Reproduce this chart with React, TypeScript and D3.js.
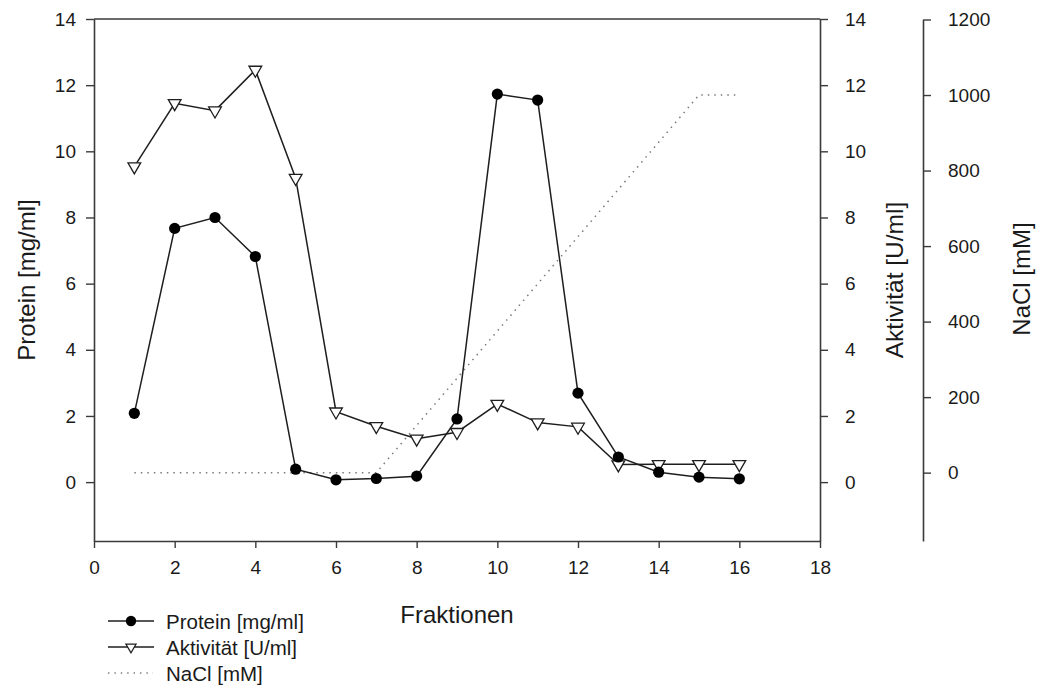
import React, { useEffect, useRef } from "react";
import * as d3 from "d3";

const fractions = [1, 2, 3, 4, 5, 6, 7, 8, 9, 10, 11, 12, 13, 14, 15, 16];
const protein = [2.08, 7.67, 8.0, 6.82, 0.39, 0.07, 0.11, 0.18, 1.91, 11.73, 11.55, 2.69, 0.76, 0.3, 0.15, 0.1];
const aktivitaet = [9.54, 11.45, 11.23, 12.46, 9.19, 2.13, 1.69, 1.31, 1.51, 2.36, 1.8, 1.67, 0.53, 0.54, 0.54, 0.54];
const nacl = [0, 0, 0, 0, 0, 0, 0, 125, 250, 375, 500, 625, 750, 875, 1000, 1000];

const xTicks = [0, 2, 4, 6, 8, 10, 12, 14, 16, 18];
const yTicks = [0, 2, 4, 6, 8, 10, 12, 14];
const naclTicks = [0, 200, 400, 600, 800, 1000, 1200];

const legendItems = [
  { label: "Protein [mg/ml]", kind: "circle" },
  { label: "Aktivität [U/ml]", kind: "triangle" },
  { label: "NaCl [mM]", kind: "dotted" },
];

const W = 1041;
const H = 686;
const FONT = "'Liberation Sans', Arial, Helvetica, sans-serif";

export default function App() {
  const ref = useRef<SVGSVGElement | null>(null);

  useEffect(() => {
    const svg = d3.select(ref.current);
    svg.selectAll("*").remove();

    const x = d3.scaleLinear().domain([0, 18]).range([94, 820]);
    const yL = d3.scaleLinear().domain([-1.78, 14]).range([541, 19]);
    const yN = d3.scaleLinear().domain([-181, 1200]).range([541, 19.5]);

    const axisColor = "#3a3a3a";
    const textColor = "#1a1a1a";
    const lineColor = "#1e1e1e";

    const styleAxis = (g: any) => {
      g.selectAll("path.domain").attr("stroke", axisColor).attr("stroke-width", 1.6);
      g.selectAll(".tick line").attr("stroke", axisColor).attr("stroke-width", 1.4);
      g.selectAll(".tick text")
        .attr("fill", textColor)
        .style("font-family", FONT)
        .style("font-size", "19px");
    };

    // top frame line
    svg.append("line")
      .attr("x1", x(0)).attr("x2", x(18))
      .attr("y1", yL(14)).attr("y2", yL(14))
      .attr("stroke", axisColor).attr("stroke-width", 1.6);

    // left axis
    svg.append("g")
      .attr("transform", `translate(${x(0)},0)`)
      .call(d3.axisLeft(yL).tickValues(yTicks).tickSize(8).tickSizeOuter(0).tickPadding(10))
      .call(styleAxis);

    // bottom axis
    svg.append("g")
      .attr("transform", `translate(0,${yL(-1.78)})`)
      .call(d3.axisBottom(x).tickValues(xTicks).tickSize(7).tickSizeOuter(0).tickPadding(13))
      .call(styleAxis);

    // right axis (Aktivität)
    svg.append("g")
      .attr("transform", `translate(${x(18)},0)`)
      .call(d3.axisRight(yL).tickValues(yTicks).tickSize(8).tickSizeOuter(0).tickPadding(17))
      .call(styleAxis);

    // NaCl axis
    svg.append("g")
      .attr("transform", `translate(923,0)`)
      .call(d3.axisRight(yN).tickValues(naclTicks).tickFormat(d3.format("d")).tickSize(8).tickSizeOuter(0).tickPadding(17))
      .call(styleAxis);

    // axis titles
    const title = (tx: number, ty: number, rot: number, text: string, size = 24) =>
      svg.append("text")
        .attr("transform", `translate(${tx},${ty}) rotate(${rot})`)
        .attr("text-anchor", "middle")
        .attr("dominant-baseline", "central")
        .attr("fill", textColor)
        .style("font-family", FONT)
        .style("font-size", `${size}px`)
        .text(text);

    title(26, 280, -90, "Protein [mg/ml]");
    title(894, 280, -90, "Aktivität [U/ml]", 24.5);
    title(1021, 279, -90, "NaCl [mM]");
    title(457, 614, 0, "Fraktionen");

    // NaCl dotted line
    const naclLine = d3.line<number>()
      .x((_, i) => x(fractions[i]))
      .y((d) => yN(d));
    svg.append("path")
      .attr("d", naclLine(nacl))
      .attr("fill", "none")
      .attr("stroke", "#7a7a7a")
      .attr("stroke-width", 1.5)
      .attr("stroke-dasharray", "1.5,5");

    const line = d3.line<number>()
      .x((_, i) => x(fractions[i]))
      .y((d) => yL(d));

    svg.append("path")
      .attr("d", line(aktivitaet))
      .attr("fill", "none")
      .attr("stroke", lineColor)
      .attr("stroke-width", 1.5);

    svg.append("path")
      .attr("d", line(protein))
      .attr("fill", "none")
      .attr("stroke", lineColor)
      .attr("stroke-width", 1.5);

    const tri = d3.symbol().type(d3.symbolTriangle).size(70);
    svg.append("g")
      .selectAll("path")
      .data(aktivitaet)
      .join("path")
      .attr("d", tri() as string)
      .attr("transform", (d, i) => `translate(${x(fractions[i])},${yL(d)}) rotate(180)`)
      .attr("fill", "white")
      .attr("stroke", lineColor)
      .attr("stroke-width", 1.3);

    svg.append("g")
      .selectAll("circle")
      .data(protein)
      .join("circle")
      .attr("cx", (_, i) => x(fractions[i]))
      .attr("cy", (d) => yL(d))
      .attr("r", 5.6)
      .attr("fill", "#000");

    // legend
    const lg = svg.append("g");
    const rowY = [621, 647, 673];
    legendItems.forEach((item, i) => {
      const y = rowY[i];
      if (item.kind === "dotted") {
        lg.append("line")
          .attr("x1", 108).attr("x2", 153).attr("y1", y).attr("y2", y)
          .attr("stroke", "#7a7a7a").attr("stroke-width", 1.4)
          .attr("stroke-dasharray", "1.4,5");
      } else {
        lg.append("line")
          .attr("x1", 108).attr("x2", 154).attr("y1", y).attr("y2", y)
          .attr("stroke", lineColor).attr("stroke-width", 1.5);
        if (item.kind === "circle") {
          lg.append("circle").attr("cx", 131).attr("cy", y).attr("r", 5.2).attr("fill", "#000");
        } else {
          lg.append("path")
            .attr("d", d3.symbol().type(d3.symbolTriangle).size(45)() as string)
            .attr("transform", `translate(131,${y}) rotate(180)`)
            .attr("fill", "white").attr("stroke", lineColor).attr("stroke-width", 1.2);
        }
      }
      lg.append("text")
        .attr("x", 166)
        .attr("y", y)
        .attr("dominant-baseline", "central")
        .attr("fill", textColor)
        .style("font-family", FONT)
        .style("font-size", "20.5px")
        .text(item.label);
    });
  }, []);

  return (
    <div style={{ position: "absolute", left: 0, top: 0 }}>
      <svg ref={ref} width={W} height={H} style={{ display: "block", background: "#fff" }} />
    </div>
  );
}
